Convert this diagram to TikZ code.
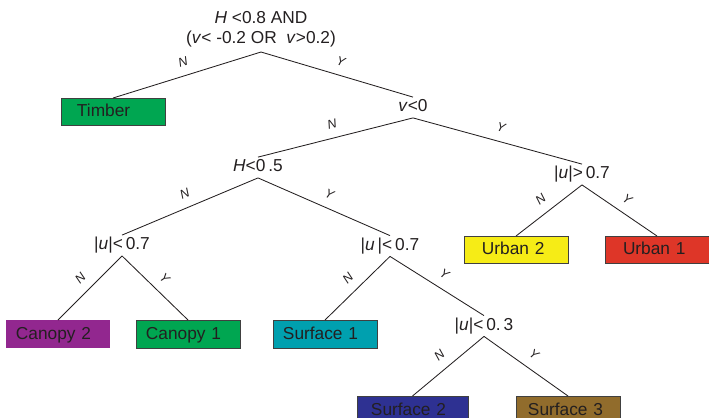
\documentclass[tikz,border=0pt]{standalone}
\usepackage{fontspec}
\usepackage{xcolor}
\setmainfont{Liberation Sans}
\definecolor{inkcolor}{RGB}{35,31,32}
\definecolor{boxline}{RGB}{64,64,64}
\definecolor{timbergreen}{RGB}{0,166,81}
\definecolor{canopypurple}{RGB}{146,39,143}
\definecolor{surfaceteal}{RGB}{0,160,175}
\definecolor{surfaceblue}{RGB}{46,49,146}
\definecolor{surfacebrown}{RGB}{145,108,44}
\definecolor{urbanyellow}{RGB}{246,236,22}
\definecolor{urbanred}{RGB}{222,54,40}
\tikzset{
  splittext/.style={font=\fontsize{12.3}{14.2}\selectfont,text=inkcolor},
  split/.style={splittext,text height=9pt,text depth=3pt,
    inner xsep=1pt,inner ysep=1.2pt},
  leaf/.style={draw=boxline,line width=0.6pt,anchor=north,
    font=\fontsize{12.3}{14.2}\selectfont,text=inkcolor,
    minimum height=0.675cm,text height=9pt,text depth=2.5pt,
    inner xsep=0.25cm,text width=2.1cm,align=left},
  branchline/.style={draw=inkcolor,line width=0.6pt},
  answer/.style={pos=0.5,sloped,above=5.5pt,inner sep=1pt,
    font=\fontsize{9}{10}\selectfont\itshape,text=inkcolor}
}
\newcommand{\branch}[3]{
    % Branch From a Split Down to a Child, Labelled N or Y
    % \branch{parent}{child}{answer}
    % example:
    %   \branch{root}{timber}{N}
    \draw[branchline] (#1.south) -- (#2.north) node [answer] {#3};
}

\begin{document}
\begin{tikzpicture}[x=0.025cm,y=-0.025cm]
  \useasboundingbox (0,0) rectangle (709,417);
  \clip (0,0) rectangle (709,417);
  % splits
  \node[splittext,align=center,anchor=south,inner sep=3pt] (root) at (261,52)
      {\textit{H} <0.8 AND\\(\textit{v}< -0.2 OR\ \ \textit{v}>0.2)};
  \node[split] (vlow) at (413,107.5) {\textit{v}<0};
  \node[split] (hlow) at (258,167.5) {\textit{H}<0\,.5};
  \node[split] (uhigh) at (582,174.5) {|\textit{u}|>\,0.7};
  \node[split] (ulowA) at (122,245.5) {|\textit{u}|<\,0.7};
  \node[split] (ulowB) at (390,246) {|\textit{u}\,|<\,0.7};
  \node[split] (uvlow) at (484,326) {|\textit{u}|<\,0.\,3};
  % classes
  \node[leaf,fill=timbergreen,inner xsep=0.4cm,text width=1.8cm] (timber)
      at (113,98) {Timber};
  \node[leaf,fill=urbanyellow,inner xsep=0.45cm,text width=1.7cm] (urbanTwo)
      at (516,236) {Urban 2};
  \node[leaf,fill=urbanred,inner xsep=0.45cm,text width=1.7cm] (urbanOne)
      at (657,236) {Urban 1};
  \node[leaf,fill=canopypurple,draw=none,minimum height=0.7cm] (canopyTwo)
      at (58,320) {Canopy 2};
  \node[leaf,fill=timbergreen,minimum height=0.7cm] (canopyOne)
      at (188,320) {Canopy 1};
  \node[leaf,fill=surfaceteal,minimum height=0.7cm] (surfaceOne)
      at (325,320) {Surface 1};
  \node[leaf,fill=surfaceblue,minimum height=0.7cm,inner xsep=0.35cm,
      text width=2.075cm] (surfaceTwo) at (412.5,396) {Surface 2};
  \node[leaf,fill=surfacebrown,minimum height=0.7cm,inner xsep=0.3cm,
      text width=2cm] (surfaceThree) at (568,396) {Surface 3};
  % branches
  \branch{root}{timber}{N}
  \branch{root}{vlow}{Y}
  \branch{vlow}{hlow}{N}
  \branch{vlow}{uhigh}{Y}
  \branch{hlow}{ulowA}{N}
  \branch{hlow}{ulowB}{Y}
  \branch{uhigh}{urbanTwo}{N}
  \branch{uhigh}{urbanOne}{Y}
  \branch{ulowA}{canopyTwo}{N}
  \branch{ulowA}{canopyOne}{Y}
  \branch{ulowB}{surfaceOne}{N}
  \branch{ulowB}{uvlow}{Y}
  \branch{uvlow}{surfaceTwo}{N}
  \branch{uvlow}{surfaceThree}{Y}
\end{tikzpicture}
\end{document}
